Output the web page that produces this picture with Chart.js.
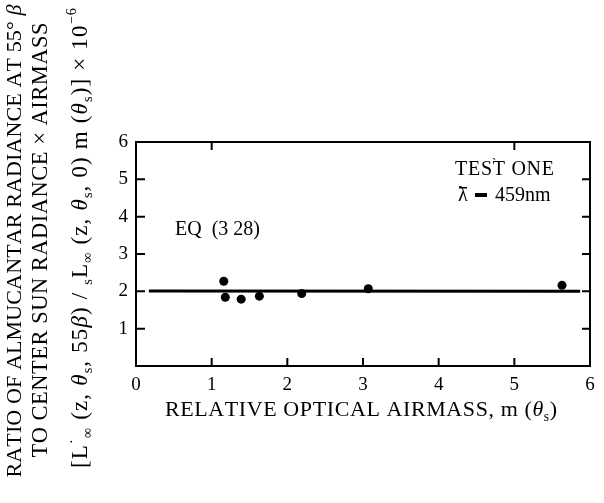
<!DOCTYPE html>
<html>
<head>
<meta charset="utf-8">
<script src="https://cdn.jsdelivr.net/npm/chart.js@4/dist/chart.umd.min.js"></script>
<style>
  html, body { margin: 0; padding: 0; background: #fff; }
  #wrap { width: 604px; height: 503px; }
</style>
</head>
<body>
<div id="wrap"><canvas id="grafico" width="604" height="503"></canvas></div>
<script>
// medidas: masa de aire relativa vs razon de radiancias
const masaAire = [1.16, 1.18, 1.39, 1.63, 2.19, 3.07, 5.63];
const razon = [2.27, 1.84, 1.79, 1.87, 1.94, 2.07, 2.16];
// recta de la ecuacion (3 28)
const rectaX = [0.17, 5.87];
const rectaY = [2.01, 2.0];
const ticksX = [0, 1, 2, 3, 4, 5, 6];
const ticksY = [0, 1, 2, 3, 4, 5, 6];

const SERIF = '"Liberation Serif", "DejaVu Serif", serif';
const NEGRO = '#000';

const puntos = masaAire.map((m, i) => ({ x: m, y: razon[i] }));
const recta = rectaX.map((m, i) => ({ x: m, y: rectaY[i] }));

// dibuja un texto compuesto por tramos (normal, italica, subindice, superindice)
// esp = espacio extra entre letras
function dibujarTramos(ctx, tramos, size, x0, base, esp, medir) {
    let x = x0;
    tramos.forEach(([txt, tipo]) => {
        let s = size, dy = 0, estilo = '';
        if (tipo === 'sub') { s = size * 0.62; dy = size * 0.22; }
        if (tipo === 'sup') { s = size * 0.62; dy = -size * 0.45; }
        if (tipo === 'i') { estilo = 'italic '; }
        ctx.font = estilo + s + 'px ' + SERIF;
        for (const ch of txt) {
            if (!medir) ctx.fillText(ch, x, base + dy);
            x += ctx.measureText(ch).width + esp;
        }
    });
    return x - x0 - esp;
}

function contarLetras(tramos) {
    return tramos.reduce((n, [t]) => n + [...t].length, 0);
}

// texto centrado en (cx, cy) estirado hasta el largo pedido
function textoAjustado(ctx, tramos, size, cx, cy, largo, vertical) {
    ctx.save();
    ctx.translate(cx, cy);
    if (vertical) ctx.rotate(-Math.PI / 2);
    ctx.textAlign = 'left';
    ctx.textBaseline = 'alphabetic';
    const w0 = dibujarTramos(ctx, tramos, size, 0, 0, 0, true);
    const esp = Math.max(0, (largo - w0) / (contarLetras(tramos) - 1));
    const w = dibujarTramos(ctx, tramos, size, 0, 0, esp, true);
    dibujarTramos(ctx, tramos, size, -w / 2, size * 0.33, esp, false);
    ctx.restore();
}

const titulo1 = [['RATIO OF ALMUCANTAR RADIANCE AT 55° ', 'n'], ['β', 'i']];
const titulo2 = [['TO CENTER SUN RADIANCE × AIRMASS', 'n']];
const titulo3 = [
    ['[L', 'n'], ['·', 'sup'], ['∞', 'sub'], [' (z, ', 'n'], ['θ', 'i'], ['s', 'sub'],
    [', 55', 'n'], ['β', 'i'], [') / ', 'n'], ['s', 'sub'], ['L', 'n'], ['∞', 'sub'],
    [' (z, ', 'n'], ['θ', 'i'], ['s', 'sub'], [', 0) m (', 'n'], ['θ', 'i'], ['s', 'sub'],
    [')] × 10', 'n'], ['−6', 'sup']
];
const tituloX = [['RELATIVE OPTICAL AIRMASS, m (', 'n'], ['θ', 'i'], ['s', 'sub'], [')', 'n']];

const decorado = {
    id: 'decorado',
    afterDraw(chart) {
        const ctx = chart.ctx;
        const a = chart.chartArea;
        const sx = chart.scales.x, sy = chart.scales.y;
        ctx.save();
        ctx.strokeStyle = NEGRO;
        ctx.fillStyle = NEGRO;
        ctx.lineWidth = 2;
        // marco
        ctx.strokeRect(a.left, a.top, a.right - a.left, a.bottom - a.top);
        // marcas hacia adentro
        ctx.beginPath();
        ticksY.slice(1, -1).forEach(v => {
            const y = sy.getPixelForValue(v);
            ctx.moveTo(a.left, y); ctx.lineTo(a.left + 9, y);
            ctx.moveTo(a.right, y); ctx.lineTo(a.right - 8, y);
        });
        ticksX.slice(1, -1).forEach(v => {
            const x = sx.getPixelForValue(v);
            ctx.moveTo(x, a.bottom); ctx.lineTo(x, a.bottom - 8);
        });
        [1, 5].forEach(v => {
            const x = sx.getPixelForValue(v);
            ctx.moveTo(x, a.top); ctx.lineTo(x, a.top + 8);
        });
        ctx.stroke();

        // rotulos dentro del grafico
        textoAjustado(ctx, [['TEST ONE', 'n']], 20, 504.5, 168, 99, false);
        ctx.font = '13px ' + SERIF;
        ctx.fillText('`', 492, 167);
        const lx = 458;
        ctx.font = '20px ' + SERIF;
        ctx.fillText('λ', lx, 201);
        ctx.fillRect(lx + 1, 187, 8, 1.5);
        ctx.fillRect(lx + 17, 193, 12, 4);
        ctx.fillText('459nm', lx + 37, 201);
        ctx.fillText('EQ  (3 28)', 175, 235);

        // titulos de los ejes
        textoAjustado(ctx, titulo1, 22, 14, 241, 473, true);
        textoAjustado(ctx, titulo2, 22.5, 40, 240, 435, true);
        textoAjustado(ctx, titulo3, 23, 79, 238, 460, true);
        textoAjustado(ctx, tituloX, 22, 361, 409, 392, false);
        ctx.restore();
    }
};

new Chart(document.getElementById('grafico'), {
    type: 'scatter',
    data: {
        datasets: [
            {
                data: puntos,
                pointRadius: 4.5,
                pointHoverRadius: 4.5,
                backgroundColor: NEGRO,
                borderColor: NEGRO,
                borderWidth: 0
            },
            {
                type: 'line',
                data: recta,
                borderColor: NEGRO,
                borderWidth: 3,
                pointRadius: 0,
                fill: false
            }
        ]
    },
    options: {
        responsive: false,
        animation: false,
        events: [],
        layout: { padding: { left: 0, right: 14, top: 142, bottom: 107 } },
        plugins: { legend: { display: false }, tooltip: { enabled: false } },
        scales: {
            x: {
                type: 'linear',
                min: 0, max: 6,
                afterFit: s => { s.height = 30; },
                afterBuildTicks: s => { s.ticks = ticksX.map(v => ({ value: v })); },
                grid: { display: false, drawTicks: false },
                border: { display: false },
                ticks: { color: NEGRO, padding: 8, font: { family: SERIF, size: 19 } }
            },
            y: {
                type: 'linear',
                min: 0, max: 6,
                afterFit: s => { s.width = 136; },
                afterBuildTicks: s => { s.ticks = ticksY.map(v => ({ value: v })); },
                grid: { display: false, drawTicks: false },
                border: { display: false },
                ticks: {
                    color: NEGRO, padding: 8, font: { family: SERIF, size: 19 },
                    callback: v => (v === 0 ? '' : v)
                }
            }
        }
    },
    plugins: [decorado]
});
</script>
</body>
</html>
